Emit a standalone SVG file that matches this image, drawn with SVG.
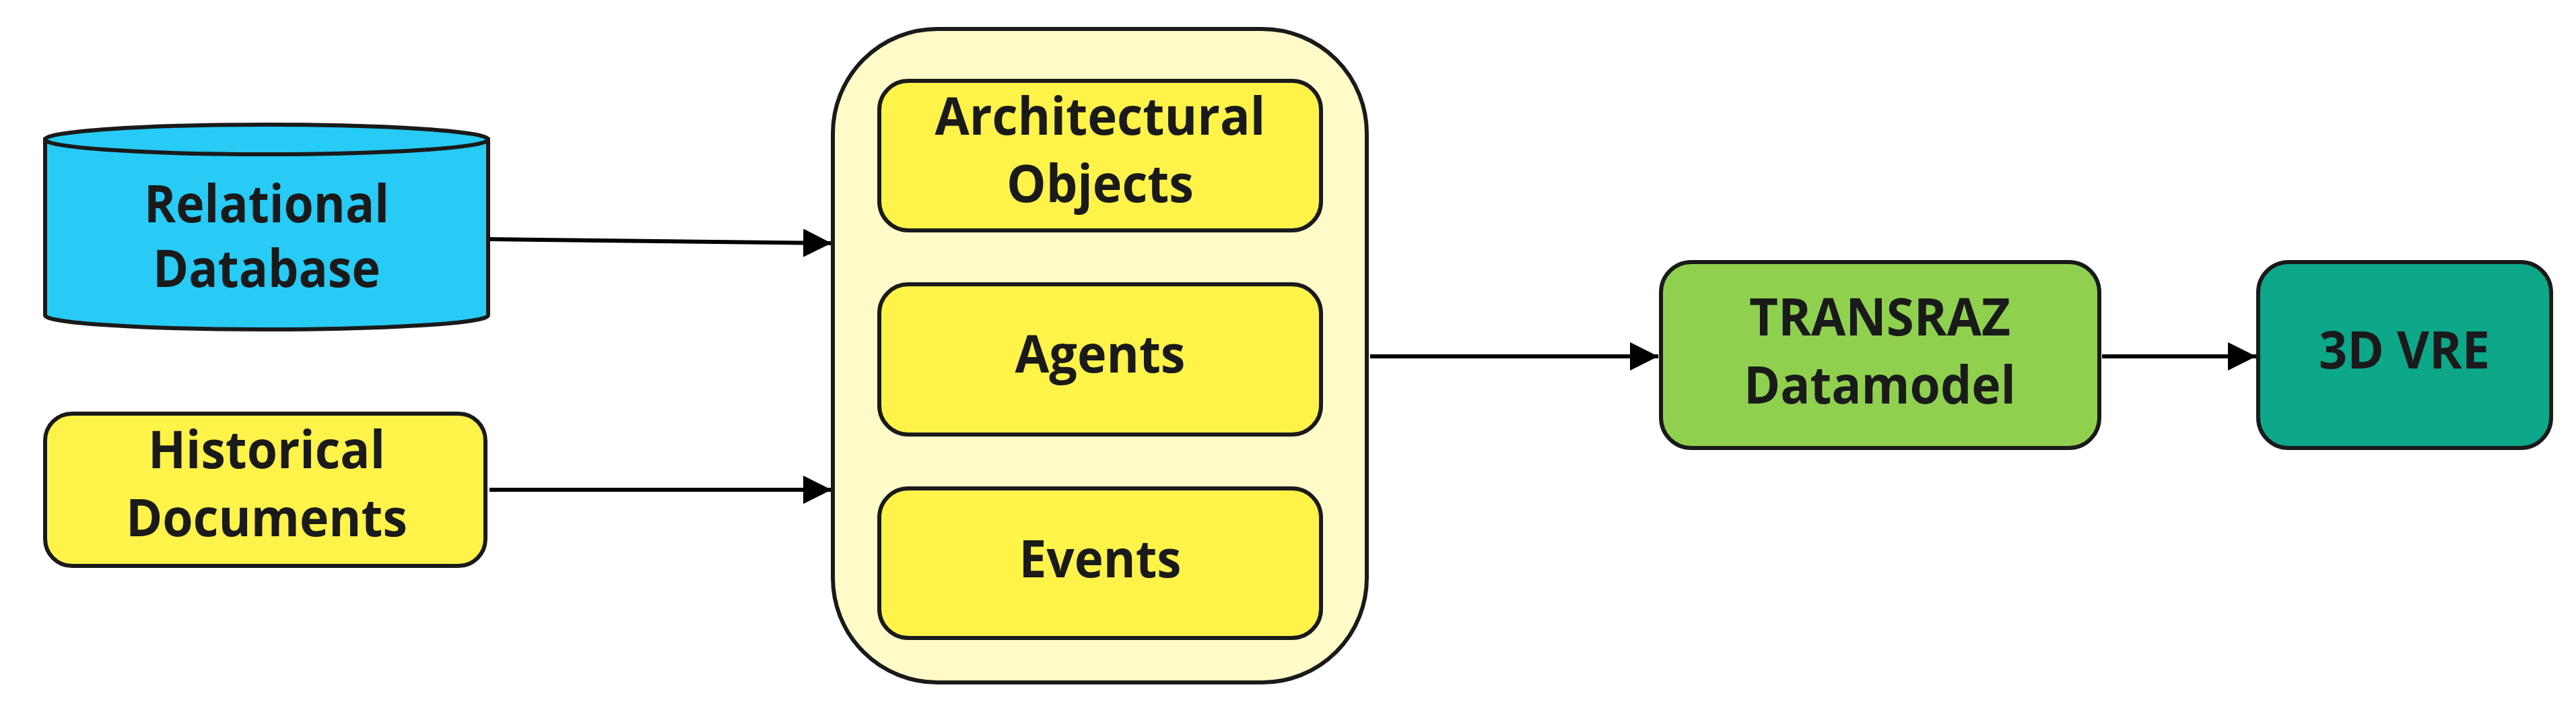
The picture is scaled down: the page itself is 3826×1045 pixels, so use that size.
<svg xmlns="http://www.w3.org/2000/svg" width="3826" height="1045" viewBox="0 0 3826 1045">
<defs>
<marker id="ah" markerUnits="userSpaceOnUse" markerWidth="44" markerHeight="42" refX="42" refY="21" orient="auto">
<path d="M0,0 L42,21 L0,42 Z" fill="#000"/>
</marker>
<style>
.n{stroke:#1a1a1a;stroke-width:6}
.t{font-family:"Open Sans","Noto Sans","DejaVu Sans",sans-serif;font-weight:700;font-size:77px;fill:#1a1a1a;text-anchor:middle}
.c{stroke:#000;stroke-width:6;fill:none}
</style>
</defs>
<rect width="3826" height="1045" fill="#fff"/>
<g id="connectors">
<path class="c" d="M727,355 L1235,361" marker-end="url(#ah)"/>
<path class="c" d="M727,727 L1235,727" marker-end="url(#ah)"/>
<path class="c" d="M2035,529 L2463,529" marker-end="url(#ah)"/>
<path class="c" d="M3122,529 L3351,529" marker-end="url(#ah)"/>
</g>
<g id="relational-database">
<path class="n" fill="#27cbf6" d="M67,207 L67,468 A329,21 0 0 0 725,468 L725,207 Z"/>
<ellipse class="n" fill="#27cbf6" cx="396" cy="207" rx="329" ry="22"/>
<text class="t" x="396" y="330" textLength="364" lengthAdjust="spacingAndGlyphs">Relational</text>
<text class="t" x="396" y="426" textLength="338" lengthAdjust="spacingAndGlyphs">Database</text>
</g>
<g id="historical-documents">
<rect class="n" fill="#fff34a" x="67" y="614" width="654" height="226" rx="40"/>
<text class="t" x="396" y="695" textLength="352" lengthAdjust="spacingAndGlyphs">Historical</text>
<text class="t" x="396" y="796" textLength="418" lengthAdjust="spacingAndGlyphs">Documents</text>
</g>
<g id="container">
<rect class="n" fill="#fffbc8" x="1237" y="43" width="793" height="970" rx="155"/>
</g>
<g id="architectural-objects">
<rect class="n" fill="#fff34a" x="1306" y="120" width="656" height="222" rx="43"/>
<text class="t" x="1634" y="200" textLength="491" lengthAdjust="spacingAndGlyphs">Architectural</text>
<text class="t" x="1634" y="300" textLength="278" lengthAdjust="spacingAndGlyphs">Objects</text>
</g>
<g id="agents">
<rect class="n" fill="#fff34a" x="1306" y="422" width="656" height="223" rx="43"/>
<text class="t" x="1634" y="553" textLength="253" lengthAdjust="spacingAndGlyphs">Agents</text>
</g>
<g id="events">
<rect class="n" fill="#fff34a" x="1306" y="725" width="656" height="222" rx="43"/>
<text class="t" x="1634" y="857" textLength="241" lengthAdjust="spacingAndGlyphs">Events</text>
</g>
<g id="transraz-datamodel">
<rect class="n" fill="#8fd14f" x="2467" y="389" width="651" height="276" rx="45"/>
<text class="t" x="2792" y="498" textLength="388" lengthAdjust="spacingAndGlyphs">TRANSRAZ</text>
<text class="t" x="2792" y="599" textLength="404" lengthAdjust="spacingAndGlyphs">Datamodel</text>
</g>
<g id="vre-3d">
<rect class="n" fill="#0da789" x="3354" y="389" width="435" height="276" rx="45"/>
<text class="t" x="3571" y="547" textLength="254" lengthAdjust="spacingAndGlyphs">3D VRE</text>
</g>
</svg>
